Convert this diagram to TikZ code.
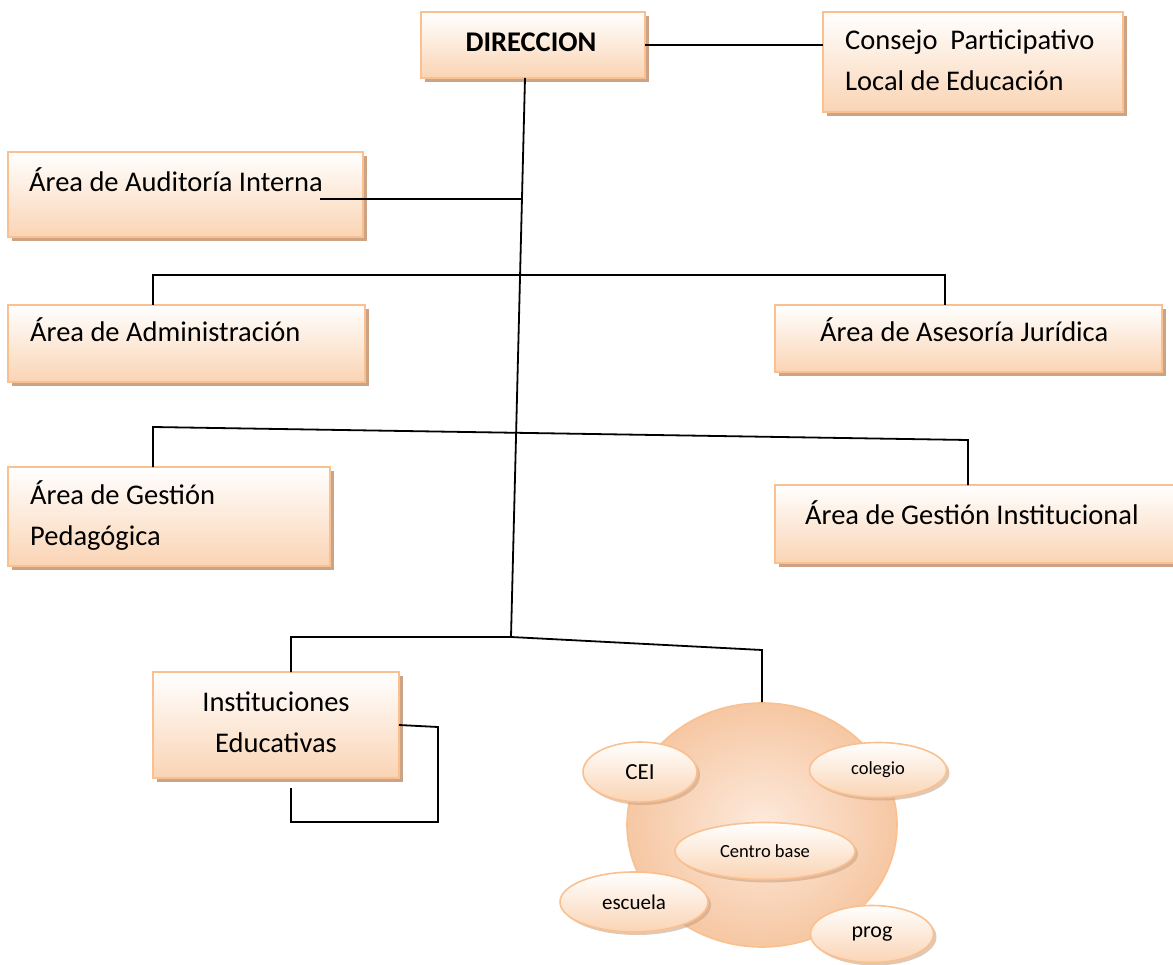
\documentclass[tikz,border=0pt]{standalone}
\usepackage{fontspec}
\setmainfont{Carlito}
\usetikzlibrary{shapes.geometric,shadows,calc}
\definecolor{bdr}{RGB}{250,192,143}
\definecolor{bot}{RGB}{250,212,180}
\definecolor{shd}{RGB}{204,163,133}
\definecolor{cin}{RGB}{253,234,220}
\definecolor{cout}{RGB}{246,199,163}
\tikzset{
  orgbox/.style={rectangle, draw=bdr, line width=1.6pt, top color=white, bottom color=bot,
    inner sep=0pt, outer sep=0pt, anchor=north west,
    drop shadow={shadow xshift=4pt, shadow yshift=-4pt, fill=shd, opacity=1}},
  lbl/.style={font=\fontsize{28.5}{41}\selectfont, inner sep=0pt, anchor=base west, align=left},
  blob/.style={ellipse, draw=bdr, line width=1.6pt, top color=white, bottom color=bot,
    inner sep=0pt, outer sep=0pt,
    drop shadow={shadow xshift=3pt, shadow yshift=-3pt, fill=shd, opacity=0.6}},
  wire/.style={draw=black, line width=1.8pt}
}
\begin{document}
\begin{tikzpicture}[x=1pt,y=-1pt]
\useasboundingbox (0,0) rectangle (1173,965);
% boxes
\node[orgbox, minimum width=224pt, minimum height=66pt] (dir) at (421,12) {};
\node[orgbox, minimum width=300pt, minimum height=100pt] (con) at (823,12) {};
\node[orgbox, minimum width=355pt, minimum height=85pt] (aud) at (8,152) {};
\node[orgbox, minimum width=357pt, minimum height=77pt] (adm) at (8,305) {};
\node[orgbox, minimum width=387pt, minimum height=67pt] (ase) at (775,305) {};
\node[orgbox, minimum width=322pt, minimum height=99pt] (ped) at (8,467) {};
\node[orgbox, minimum width=402pt, minimum height=78pt] (gin) at (775,485) {};
\node[orgbox, minimum width=246pt, minimum height=106pt] (edu) at (153,672) {};
% texts
\node[lbl, anchor=base, font=\fontsize{28.5}{41}\selectfont\bfseries] (dirT) at (531,52) {DIRECCION};
\node[lbl] (conT) at (845,91) {Consejo~ Participativo\\Local de Educación};
\node[lbl] (audT) at (29,192) {Área de Auditoría Interna};
\node[lbl] (admT) at (30,342) {Área de Administración};
\node[lbl] (aseT) at (820,342) {Área de Asesoría Jurídica};
\node[lbl] (pedT) at (30,545) {Área de Gestión\\Pedagógica};
\node[lbl] (ginT) at (805,524) {Área de Gestión Institucional};
\node[lbl, anchor=base, align=center] (eduT) at (276,752) {Instituciones\\Educativas};
% circle of institutions
\node[ellipse, draw=bdr, line width=1.6pt, shading=radial, inner color=cin, outer color=cout,
  minimum width=270pt, minimum height=244pt, inner sep=0pt] (circ) at (762,825) {};
\node[blob, minimum width=180pt, minimum height=57pt, font=\fontsize{18.5}{20}\selectfont] (cb) at (765,851) {Centro base};
\node[blob, minimum width=114pt, minimum height=60pt, font=\fontsize{23}{24}\selectfont] (cei) at (640,772) {CEI};
\node[blob, minimum width=137pt, minimum height=55pt, font=\fontsize{18.5}{20}\selectfont] (col) at (878,770) {colegio};
\node[blob, minimum width=148pt, minimum height=60pt, font=\fontsize{21}{22}\selectfont] (esc) at (634,902) {escuela};
\node[blob, minimum width=123pt, minimum height=57pt, font=\fontsize{22}{23}\selectfont] (prog) at (872,934) {prog};
% junction coordinates
\coordinate (trunkTop) at ([xshift=-8pt]dir.south);
\coordinate (jB) at (511,637);
\coordinate (audS) at (320,199);
\coordinate (audJ) at (523,199);
\coordinate (busL) at (153,275);
\coordinate (busR) at (945,275);
\coordinate (busL2) at (153,427);
\coordinate (busR2) at (968,440);
\coordinate (botL) at (291,637);
\coordinate (botR) at (762,650);
\coordinate (loopA) at (438,727);
\coordinate (loopB) at (438,822);
\coordinate (loopC) at (291,822);
\coordinate (loopD) at (291,788);
% connectors
\draw[wire] (dir.east) -- (dir.east -| con.west);
\draw[wire] (trunkTop) -- (jB);
\draw[wire] (audS) -- (audJ);
\draw[wire] (busL |- adm.north) -- (busL) -- (busR) -- (busR |- ase.north);
\draw[wire] (busL2 |- ped.north) -- (busL2) -- (busR2) -- (busR2 |- gin.north);
\draw[wire] (botL |- edu.north) -- (botL) -- (jB) -- (botR) -- (botR |- circ.north);
\draw[wire] (edu.east) -- (loopA) -- (loopB) -- (loopC) -- (loopD);
\end{tikzpicture}
\end{document}
